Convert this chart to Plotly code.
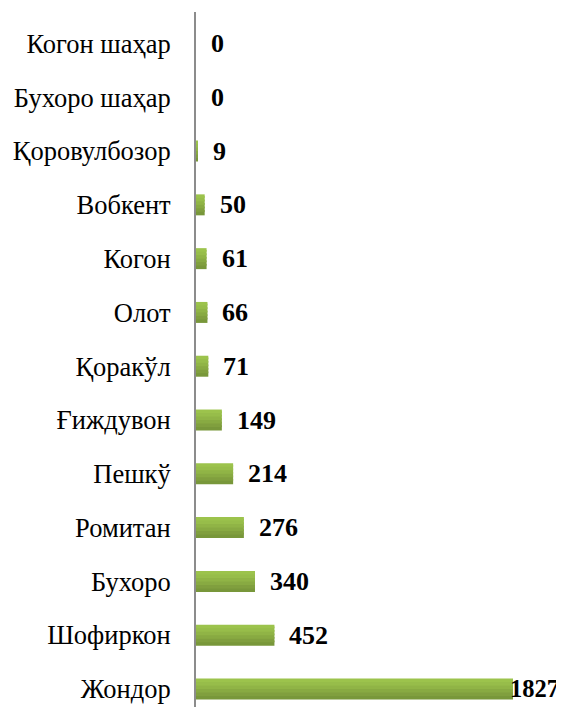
import plotly.graph_objects as go

categories = ["Жондор", "Шофиркон", "Бухоро", "Ромитан", "Пешкў", "Ғиждувон",
              "Қоракўл", "Олот", "Когон", "Вобкент", "Қоровулбозор",
              "Бухоро шаҳар", "Когон шаҳар"]
values = [1827, 452, 340, 276, 214, 149, 71, 66, 61, 50, 9, 0, 0]

fig = go.Figure()

# simulated vertical gradient on bars with overlapping strips
bar_w = 0.39
strip_colors = ["#78973a", "#809f3e", "#88aa42", "#90b446", "#97bd4a", "#9cc34c"]
n = len(strip_colors)
s = bar_w / n
for i, c in enumerate(strip_colors):
    extra = 0 if i == n - 1 else s * 0.5
    fig.add_trace(go.Bar(
        x=values, y=categories, orientation="h",
        width=s + extra, offset=-bar_w / 2 + i * s,
        marker=dict(color=c, line=dict(width=0)),
        hoverinfo="skip", showlegend=False,
    ))

vmax = max(values)
for v, c in zip(values, categories):
    fig.add_annotation(
        x=v, y=c, text=f"<b>{v}</b>", showarrow=False,
        xanchor="left", yanchor="middle",
        xshift=-5 if v == vmax else 13,
        font=dict(family="Liberation Serif", size=24.5 if v == vmax else 26,
                  color="#000000"),
    )

# page body has an 8px default margin, so the figure is sized 8px smaller
fig.update_layout(
    width=556, height=699,
    margin=dict(l=188, r=51, t=4, b=0, autoexpand=False),
    barmode="overlay",
    paper_bgcolor="white", plot_bgcolor="white",
    font=dict(family="Liberation Serif", size=26.5, color="#000000"),
    xaxis=dict(range=[0, 1827], visible=False, showgrid=False, zeroline=False,
               automargin=False),
    yaxis=dict(
        categoryorder="array", categoryarray=categories,
        range=[-0.335, 12.585], automargin=False,
        showline=True, linecolor="#8c8c8c", linewidth=2,
        showgrid=False, zeroline=False, ticks="",
        ticklabelstandoff=18,
        tickfont=dict(family="Liberation Serif", size=26.5, color="#000000"),
    ),
)

fig.write_html("out.html")
